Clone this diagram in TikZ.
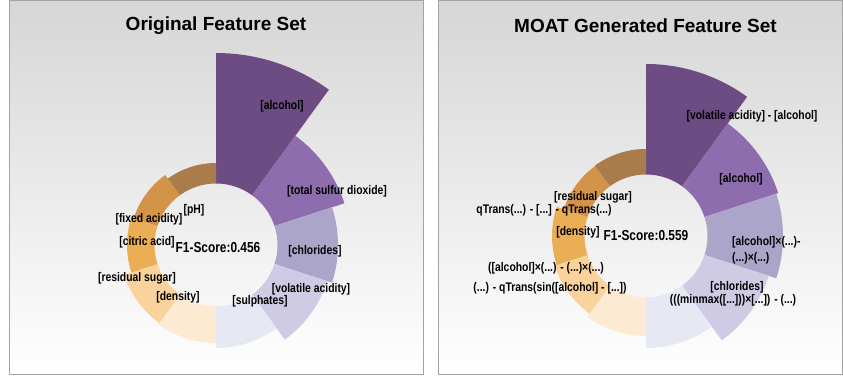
\documentclass[tikz,border=0pt]{standalone}
\usepackage{fontspec}
\setmainfont{Liberation Sans}
\newfontfamily\labfont[FakeStretch=0.83]{Liberation Sans}
\newfontfamily\scorefont[FakeStretch=0.82]{Liberation Sans}

\definecolor{sA}{HTML}{6D4C84}
\definecolor{sB}{HTML}{8D6DAE}
\definecolor{sC}{HTML}{ACA5CA}
\definecolor{sD}{HTML}{CFCBE4}
\definecolor{sE}{HTML}{E6E8F3}
\definecolor{sF}{HTML}{FCEAD2}
\definecolor{sG}{HTML}{FAD29B}
\definecolor{sH}{HTML}{EAAE55}
\definecolor{sI}{HTML}{D3944A}
\definecolor{sJ}{HTML}{AB7C4B}
\definecolor{frame}{HTML}{A3A3A3}
\definecolor{bgtop}{HTML}{D6D6D6}

% one wedge of a polar bar chart: start angle, end angle, outer radius, colour
\newcommand{\polarbar}[4]{%
  \fill[#4] (#1:61.5) arc[start angle=#1,end angle=#2,radius=61.5]
    -- (#2:#3) arc[start angle=#2,end angle=#1,radius=#3] -- cycle;}

\tikzset{
  panel/.style={draw=frame, line width=1pt, top color=bgtop, bottom color=white},
  title/.style={font=\bfseries\fontsize{19}{22}\selectfont, inner sep=0},
  tag/.style={font=\labfont\bfseries\fontsize{12.5}{16}\selectfont, inner sep=0},
  score/.style={font=\scorefont\bfseries\fontsize{14.5}{16}\selectfont, inner sep=0},
}

\begin{document}
\begin{tikzpicture}[x=1pt,y=1pt]
\useasboundingbox (0,0) rectangle (843,377);

% panels
\shade[panel] (9,2) rectangle (423,376);
\shade[panel] (438,2) rectangle (842,376);

% left chart: original features
\begin{scope}[shift={(216,132)}]
  \polarbar{90}{54}{192}{sA}
  \polarbar{54}{18}{135}{sB}
  \polarbar{18}{-18}{122}{sC}
  \polarbar{-18}{-54}{117}{sD}
  \polarbar{-54}{-90}{103}{sE}
  \polarbar{-90}{-126}{98}{sF}
  \polarbar{-126}{-162}{96.5}{sG}
  \polarbar{-162}{-198}{89}{sH}
  \polarbar{162}{126}{86.5}{sI}
  \polarbar{126}{90}{82}{sJ}
\end{scope}

% right chart: generated features
\begin{scope}[shift={(646,141)}]
  \polarbar{90}{54}{172}{sA}
  \polarbar{54}{18}{139}{sB}
  \polarbar{18}{-18}{137}{sC}
  \polarbar{-18}{-54}{129}{sD}
  \polarbar{-54}{-90}{112}{sE}
  \polarbar{-90}{-126}{100}{sF}
  \polarbar{-126}{-162}{96}{sG}
  \polarbar{-162}{-198}{94}{sH}
  \polarbar{162}{126}{86.5}{sI}
  \polarbar{126}{90}{87}{sJ}
\end{scope}

% left labels
\node[title] (t1) at (216,351) {Original Feature Set};
\node[tag] (l1) at (282,271) {[alcohol]};
\node[tag] (l2) at (337,186) {[total sulfur dioxide]};
\node[tag] (l3) at (315,126) {[chlorides]};
\node[tag] (l4) at (311,88) {[volatile acidity]};
\node[tag] (l5) at (260,76) {[sulphates]};
\node[tag] (l6) at (178,80) {[density]};
\node[tag] (l7) at (137,99) {[residual sugar]};
\node[tag] (l8) at (147,135) {[citric acid]};
\node[tag] (l9) at (149,158) {[fixed acidity]};
\node[tag] (l10) at (194,167) {[pH]};
\node[score] (f1) at (218,129) {F1-Score:0.456};

% right labels
\node[title] (t2) at (645.5,351) {MOAT Generated Feature Set};
\node[tag] (r1) at (752,261) {[volatile acidity] - [alcohol]};
\node[tag] (r2) at (741,198) {[alcohol]};
\node[tag, anchor=west, align=left] (r3) at (732,127) {[alcohol]×(...)-\\(...)×(...)};
\node[tag] (r4) at (737,90) {[chlorides]};
\node[tag] (r5) at (733,77) {(((minmax([...]))×[...]) - (...)};
\node[tag] (r6) at (593,180) {[residual sugar]};
\node[tag] (r7) at (544,167) {qTrans(...) - [...] - qTrans(...)};
\node[tag] (r8) at (578,145) {[density]};
\node[tag] (r9) at (546,109) {([alcohol]×(...) - (...)×(...)};
\node[tag] (r10) at (550,89) {(...) - qTrans(sin([alcohol] - [...])};
\node[score] (f2) at (646,141) {F1-Score:0.559};
\end{tikzpicture}
\end{document}
